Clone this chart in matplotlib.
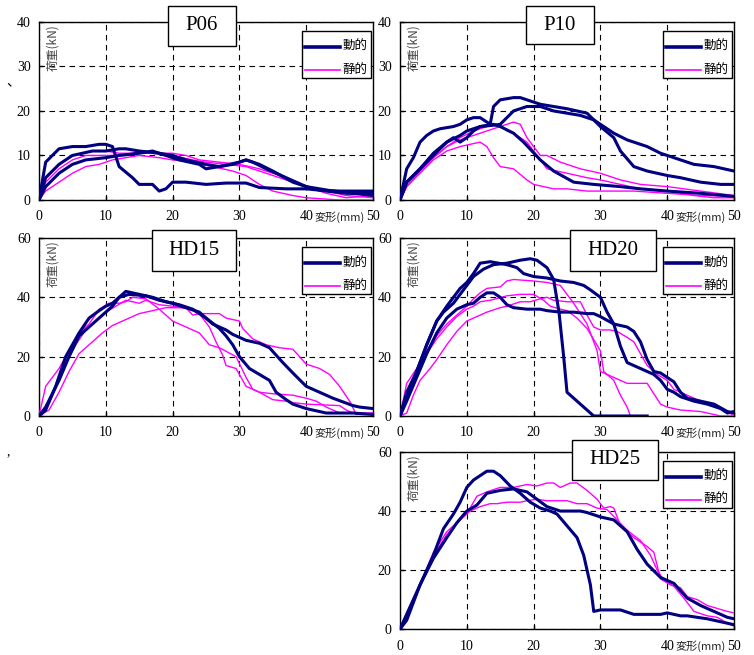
import matplotlib
matplotlib.use('Agg')
import matplotlib.pyplot as plt

plt.rcParams['font.family'] = ['Liberation Serif', 'Noto Sans CJK JP']

##### data start #####
# P06
p06_dyn = [
    ([0, 1, 3, 5, 7, 9, 10, 11, 12, 14, 15, 17, 18, 19, 20, 22, 25, 28, 31, 33, 37, 40, 42, 45, 50],
     [0, 8.5, 11.5, 12, 12, 12.5, 12.5, 12, 7.5, 5, 3.5, 3.5, 2, 2.5, 4, 4, 3.5, 3.8, 3.8, 2.8, 2.5, 2.5, 2.2, 2, 2]),
    ([0, 1, 3, 5, 8, 10, 12, 13, 15, 18, 20, 22, 25, 27, 29, 31, 32, 34, 37, 40, 44, 47, 50],
     [0, 5, 8, 10, 11, 11, 11.5, 11.5, 11, 10.5, 10, 9, 8, 7.5, 8, 9, 8.5, 7, 5, 3, 2, 1.5, 1]),
    ([0, 1, 3, 5, 7, 10, 12, 15, 17, 19, 21, 24, 25, 27, 30, 31, 33, 35, 38, 41, 43, 46, 50],
     [0, 3, 6, 8, 9, 9.5, 10, 10.5, 11, 10, 9, 8, 7, 7.5, 8.5, 9, 8, 6.5, 4, 2.5, 2, 1.5, 1.5]),
]
p06_sta = [
    ([0, 1, 3, 5, 8, 10, 12, 15, 18, 20, 22, 24, 27, 30, 33, 36, 38, 40, 43, 46, 50],
     [0, 5, 8, 10, 11, 11, 10.5, 10.5, 10.5, 10.5, 10, 9, 8.5, 8, 7, 5.5, 4, 3, 2, 1, 0.5]),
    ([0, 1, 3, 5, 7, 9, 11, 13, 15, 18, 20, 23, 26, 29, 31, 33, 35, 38, 40, 45, 50],
     [0, 2, 4, 6, 7.5, 8, 9, 9.5, 10, 9.5, 9, 8.5, 7.5, 6.5, 5.5, 3.5, 2, 1, 0.5, 0, 0]),
    ([0, 1, 3, 5, 7, 10, 13, 15, 17, 20, 23, 25, 28, 31, 34, 37, 40, 43, 46, 50],
     [0, 4, 7, 9, 10, 10, 10, 11, 10.5, 10, 9, 8.5, 8, 7.5, 6, 4.5, 3, 1.5, 0.5, 1]),
]

# P10
p10_dyn = [
    ([0, 1, 2, 3, 4, 5, 6, 8, 9, 10, 11, 12, 13, 13.5, 14, 15, 17, 18, 19, 21, 23, 25, 28, 29, 30, 32, 33, 35, 37, 40, 42, 45, 48, 50],
     [0, 7, 9.5, 13, 14.5, 15.5, 16, 16.5, 17, 18, 18.5, 18.5, 17.5, 17, 21, 22.5, 23, 23, 22.5, 21.5, 21, 20.5, 19.5, 18, 16.5, 14, 11, 7.5, 6.5, 5.5, 5, 4, 3.5, 3.5]),
    ([0, 1, 3, 5, 7, 8, 9, 10, 11, 12, 14, 15, 17, 19, 21, 23, 25, 27, 29, 30, 32, 34, 37, 39, 41, 44, 47, 50],
     [0, 4, 7, 10.5, 13, 14, 13, 14, 15.5, 16.5, 16.8, 17, 20, 21, 21, 20, 19.5, 19, 18, 17, 15, 13.5, 12, 10.5, 9.5, 8, 7.5, 6.5]),
    ([0, 1, 3, 5, 7, 9, 10, 12, 14, 15, 17, 18.5, 21, 23, 26, 29, 33, 36, 40, 45, 50],
     [0, 4, 7, 10, 13, 14.5, 15.5, 16.5, 17, 16.5, 15, 13, 9, 6.5, 4, 3.5, 3, 2.5, 2, 1.5, 0.8]),
]
p10_sta = [
    ([0, 1, 3, 5, 7, 9, 12, 13, 14, 15, 17, 19, 20, 23, 25, 28, 35, 40, 45, 50],
     [0, 3, 6, 9, 11, 12, 13, 12, 9.5, 7.5, 7, 4.5, 3.5, 2.5, 2.5, 2, 2, 1.5, 1, 0.8]),
    ([0, 1, 3, 5, 7, 9, 11, 13, 15, 17, 18, 19, 21, 22, 24, 27, 30, 33, 36, 40, 45, 50],
     [0, 3, 6.5, 9.5, 12, 13.5, 14.5, 15.5, 16.5, 17.5, 17, 14, 10, 10, 8.5, 7, 6, 4.5, 3.5, 3, 2, 1]),
    ([0, 1, 3, 5, 7, 9, 11, 13, 15, 16, 17, 19, 20.5, 22, 25, 28, 30, 33, 36, 40, 44, 47, 50],
     [0, 3, 6.5, 9.5, 12, 14, 15.5, 16.5, 17, 15.5, 15, 13, 10, 7, 6, 5, 4.5, 3.5, 2.5, 2, 1, 0.5, 0.5]),
]

# HD15
hd15_dyn = [
    ([0, 1, 2.5, 4, 6, 7.5, 9, 10, 11, 12, 13, 15, 17, 19, 21, 23, 25, 27, 28, 29, 30, 31.5, 33, 34.5, 35.5, 37, 38, 40, 41, 43, 47, 50],
     [0, 2, 10, 20, 28, 33, 35.5, 37, 38, 40, 42, 41, 40, 38.5, 37.5, 36, 33, 29.5, 27, 24, 20, 16, 14, 12, 8, 5.5, 4, 2.5, 2, 1, 1, 0.5]),
    ([0, 1, 3, 4.5, 6, 8, 9.5, 11, 12, 13.5, 16, 18, 20, 22, 24, 26, 28, 29, 31, 33, 34.5, 36.5, 38, 40, 41.5, 44, 47, 48, 50],
     [0, 3, 12, 20, 27, 31, 34, 37, 40, 41, 40.5, 39, 38, 36.5, 35, 31, 29, 27.5, 25.5, 24.5, 23, 18, 14.5, 10, 8.5, 6, 3.5, 3, 2.5]),
]
hd15_sta = [
    ([0, 1, 3, 4.5, 6, 7.5, 9, 10.5, 12, 13, 14, 16, 18, 20, 21.5, 24, 25.5, 27, 29.5, 31, 32, 33, 35, 38, 40, 41.5, 43, 45, 50],
     [0, 10, 16, 22, 28, 31, 36, 38, 38, 38.5, 40, 39.5, 36, 32, 30.5, 28, 24, 23, 20, 13, 9, 8, 7.5, 7, 6, 5, 3, 1, 1]),
    ([0, 1.5, 3, 4.5, 6, 8, 9.5, 11, 12.5, 15, 17, 19, 21, 23, 24, 27, 28, 30, 30.5, 32, 34, 36, 38, 40, 42, 43.5, 45, 46.5, 47.5, 50],
     [0, 2, 8, 15, 21, 25, 28, 30.5, 32, 34.5, 35.5, 36.5, 36.5, 36, 34.5, 34.5, 33, 32, 29.5, 26, 24, 23, 22.5, 17.5, 16, 14, 10, 5, 0.5, 1]),
    ([0, 1, 2.5, 4, 5.5, 7, 8.5, 10, 11.5, 13, 15, 16, 18, 20, 22, 23, 24, 25.5, 26.5, 27.5, 28, 29.5, 31, 33, 35, 37, 38, 40, 45, 46, 47, 50],
     [0, 3, 10, 18, 24, 29, 32, 35, 37, 39, 38, 39, 37.5, 37, 36.5, 34, 34.5, 30, 25, 20.5, 17, 16, 10, 8, 5.5, 5, 4.5, 4, 3.5, 2, 1, 0.5]),
]

# HD20
hd20_dyn = [
    ([0, 1, 2.5, 4, 5.5, 7, 8, 9, 10, 11, 12, 13.5, 16, 17.5, 18.5, 20, 22, 24, 26, 27.5, 28.5, 30, 31, 32, 33, 34, 36, 38, 39, 40, 41, 42, 44, 46, 48, 49, 50],
     [0, 8, 15, 24, 32, 37, 40, 43, 45, 48, 51.5, 52, 51, 50, 48, 47, 46.5, 45.5, 45, 44, 42.5, 40, 35, 31, 23.5, 18, 16, 14, 12, 9, 8, 6.5, 5, 4, 2.5, 1, 1.5]),
    ([0, 1, 2.5, 4, 5.5, 6.5, 8, 9, 10, 11, 12.5, 14, 16, 18, 19.5, 20.5, 22, 23, 23.8, 24.5, 25, 26.5, 28, 29, 37],
     [0, 6, 15, 24, 32, 35, 38, 41, 44, 47, 49.5, 51, 51.5, 52.5, 53, 52.5, 50, 46, 35, 20, 8, 5, 2, 0, 0]),
    ([0, 1, 2.5, 4, 5.5, 7, 8.5, 10, 11, 12, 13, 14, 15, 16, 17, 19, 21, 22, 24, 26, 28, 29, 30, 32, 34, 35, 36, 37, 38, 39, 40, 41, 42, 43, 45, 47, 49, 50],
     [0, 5, 13, 21, 28, 33, 36, 37.5, 38, 40, 41.5, 41.5, 40, 37.5, 36.5, 36, 36, 35.5, 35, 35, 34.5, 34.5, 33.5, 31, 30, 28.5, 25, 19, 15, 14.5, 13, 11.5, 8, 6, 5, 4, 1.5, 1]),
]
hd20_sta = [
    ([0, 1, 2.5, 4, 5.5, 7, 8.5, 10, 11, 12, 13, 15, 16, 17, 20, 22, 24, 26, 28, 29.5, 30, 32, 34, 37, 39, 40, 42, 45, 48, 50],
     [0, 11, 16, 22, 27, 31, 34, 37, 39.5, 41.5, 43, 43.5, 45.5, 46, 45.5, 45, 44, 38, 31, 22, 15, 13, 11, 11, 4, 3, 2, 1.5, 0, 0]),
    ([0, 1, 2.5, 4, 5.5, 7, 8.5, 10, 11, 12, 13.5, 16, 18, 20, 21.5, 22.5, 24, 25, 26.5, 28, 30, 30.5, 32, 33, 34, 34.5],
     [0, 8, 15, 21, 26, 30, 33.5, 36, 37, 38.5, 39, 40.5, 41, 41, 39, 37, 36, 35.5, 33, 29.5, 22, 15, 12, 7, 3, 0]),
    ([0, 1, 2, 3, 4.5, 5.5, 7, 8.5, 10, 11.5, 13, 15, 16, 18, 19.5, 21, 22, 23, 25, 27, 28, 29, 30, 31.5, 32.5, 34, 35, 36, 37, 38.5, 40, 41, 43, 45, 47, 49, 50],
     [0, 1, 7, 12, 16, 19, 24, 28.5, 32, 33.5, 35, 36.5, 37, 38.5, 38.5, 39.5, 40, 39, 38.5, 38.5, 34, 30, 29, 29, 28.5, 26.5, 25, 21, 17, 14, 12, 9, 7, 5, 3.5, 1.5, 0]),
]

# HD25
hd25_dyn = [
    ([0, 1, 3, 5, 6.5, 8, 9, 10, 11, 12, 13, 14, 15, 16.5, 18, 19.5, 21, 22.5, 23.5, 25, 26.5, 27.5, 28.5, 29, 30, 33, 35, 39, 40, 42, 43, 46, 48, 50],
     [0, 3, 15, 25, 34, 39, 43, 48, 50.5, 52, 53.5, 53.5, 52, 48.5, 46, 43, 41, 40, 39, 35, 31, 25, 15, 6, 6.5, 6.5, 5, 5, 5.5, 4.5, 4.5, 3.5, 2.5, 1.5]),
    ([0, 1, 3, 5, 7, 8.5, 10, 11.5, 13, 15, 17, 19, 20.5, 22, 24, 27, 28, 30, 32, 34, 35.5, 37, 39, 41, 43, 45, 47, 49, 50],
     [0, 5, 15, 24, 31, 36, 40, 42, 46, 47, 47.5, 46.5, 44, 41.5, 40, 40, 39.5, 38, 37, 33, 27, 22, 17.5, 15.5, 10.5, 8, 6, 4, 3.5]),
]
hd25_sta = [
    ([0, 1, 3, 5, 7, 9, 10.5, 11.5, 13, 15, 17, 19, 20.5, 22, 23, 24, 25.5, 26.5, 28, 29.5, 30.5, 31.5, 32, 33, 35, 37, 38, 39, 40.5, 42, 43, 44.5, 46, 47.5, 49, 50],
     [0, 5.5, 15, 25, 32, 37, 41, 45, 46.5, 48, 48, 49, 48.5, 49.5, 49.5, 48, 49.5, 49.5, 47, 44, 41, 41.5, 41, 35, 31, 28, 26, 17, 15, 14, 11, 10, 8, 7, 6, 5.5]),
    ([0, 1, 3, 5, 7, 9, 10.5, 12, 13.5, 14.5, 16, 18, 19, 20.5, 22, 25, 26.5, 28, 29.5, 31, 32.5, 34, 36, 37.5, 38.5, 39.5, 41, 42.5, 44, 46, 47.5, 49, 50],
     [0, 4, 15, 26, 33, 37, 40, 41.5, 42.5, 42.5, 43, 43, 43.5, 44, 43.5, 43.5, 42.5, 42.5, 41, 40.5, 37, 33.5, 30, 25, 20, 16.5, 14.5, 10.5, 6, 4.5, 4, 2, 1]),
]

panels = [
    # name, dynamic, static, ymax, ystep, axes rect, title box (axes fraction)
    ("P06", p06_dyn, p06_sta, 40, 10, [0.0517, 0.6947, 0.443, 0.2718], (0.386, 0.865, 0.204, 0.225)),
    ("P10", p10_dyn, p10_sta, 40, 10, [0.5305, 0.6947, 0.443, 0.2718], (0.377, 0.875, 0.204, 0.215)),
    ("HD15", hd15_dyn, hd15_sta, 60, 20, [0.0517, 0.3649, 0.443, 0.2718], (0.338, 0.815, 0.252, 0.23)),
    ("HD20", hd20_dyn, hd20_sta, 60, 20, [0.5305, 0.3649, 0.443, 0.2718], (0.509, 0.815, 0.257, 0.23)),
    ("HD25", hd25_dyn, hd25_sta, 60, 20, [0.5305, 0.0395, 0.443, 0.2704], (0.515, 0.844, 0.257, 0.223)),
]
##### data end #####

navy = '#000080'
magenta = '#ff00ff'
cjk = ['Noto Sans CJK JP', 'DejaVu Sans']

fig = plt.figure(figsize=(7.54, 6.55), dpi=100)

for name, dyn, sta, ymax, ystep, rect, tbox in panels:
    ax = fig.add_axes(rect)
    for xs, ys in sta:
        ax.plot(xs, ys, color=magenta, lw=1.0, zorder=3)
    for xs, ys in dyn:
        ax.plot(xs, ys, color=navy, lw=2.2, zorder=4)

    ax.set_xlim(0, 50)
    ax.set_ylim(0, ymax)
    ax.set_xticks([0, 10, 20, 30, 40, 50])
    ax.set_yticks(range(0, ymax + 1, ystep))
    ax.tick_params(direction='in', length=3, width=1, labelsize=10)
    ax.tick_params(axis='x', pad=7.5)
    ax.tick_params(axis='y', pad=6)
    for s in ax.spines.values():
        s.set_linewidth(1.0)
        s.set_color('black')
    ax.grid(True, color='black', ls=(0, (5, 4)), lw=0.8)

    # y label inside the axes
    ax.text(0.04, 0.985, "荷重(kN)", rotation=90, transform=ax.transAxes,
            ha='center', va='top', fontsize=8.5, color='#444444', family=cjk)
    # x label squeezed next to the 40 tick label
    ax.annotate("変形(mm)", xy=(40, 0), xycoords=('data', 'axes fraction'),
                xytext=(6, -8), textcoords='offset points', ha='left', va='top',
                fontsize=8, color='#222222', family=cjk)

    # title box
    bx, by, bw, bh = tbox
    ax.add_patch(plt.Rectangle((bx, by), bw, bh, transform=ax.transAxes, fc='white',
                               ec='black', lw=1.0, zorder=5, clip_on=False))
    ax.text(bx + bw / 2, by + bh / 2, name, transform=ax.transAxes, ha='center',
            va='center', fontsize=15, zorder=6, clip_on=False)

    # legend box
    ax.add_patch(plt.Rectangle((0.787, 0.685), 0.207, 0.264, transform=ax.transAxes,
                               fc='white', ec='black', lw=1.0, zorder=7))
    ax.plot([0.797, 0.902], [0.86, 0.86], transform=ax.transAxes, color=navy, lw=2.6, zorder=8)
    ax.plot([0.797, 0.902], [0.73, 0.73], transform=ax.transAxes, color=magenta, lw=1.2, zorder=8)
    ax.text(0.908, 0.86, "動的", transform=ax.transAxes, ha='left', va='center',
            fontsize=9, family=cjk, zorder=8)
    ax.text(0.908, 0.73, "静的", transform=ax.transAxes, ha='left', va='center',
            fontsize=9, family=cjk, zorder=8)

# stray marks from the scanned page
fig.text(0.008, 0.87, "、", fontsize=10, family=cjk)
fig.text(0.008, 0.305, ",", fontsize=10)

fig.savefig("out.png", dpi=100)
